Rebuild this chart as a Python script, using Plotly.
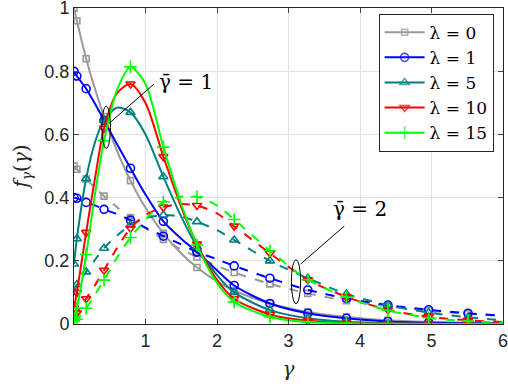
import plotly.graph_objects as go

# gamma grid; markers are drawn only where MARK == 1
GAMMA = [0.0, 0.04, 0.17, 0.3, 0.42, 0.6, 0.79, 1.0, 1.25, 1.5, 1.72, 2.0,
         2.24, 2.74, 3.27, 3.81, 4.39, 4.96, 5.51, 6.0]
MARK = [1, 1, 1, 0, 1, 0, 1, 0, 1, 0, 1, 0, 1, 1, 1, 1, 1, 1, 1, 0]

LAMBDAS = ["0", "1", "5", "10", "15"]

# gamma_bar = 1 (solid)
F1_L0 = [1.0, 0.96, 0.84, 0.74, 0.657, 0.549, 0.454, 0.368, 0.287, 0.223, 0.179, 0.135,
         0.106, 0.065, 0.038, 0.022, 0.012, 0.007, 0.004, 0.0025]
F1_L1 = [0.80, 0.785, 0.745, 0.695, 0.645, 0.57, 0.493, 0.41, 0.325, 0.27, 0.228, 0.17,
         0.122, 0.065, 0.034, 0.018, 0.008, 0.004, 0.002, 0.001]
F1_L5 = [0.19, 0.27, 0.46, 0.58, 0.645, 0.685, 0.67, 0.60, 0.466, 0.34, 0.245, 0.155,
         0.10, 0.044, 0.018, 0.007, 0.003, 0.001, 0.0005, 0.0002]
F1_L10 = [0.05, 0.10, 0.29, 0.47, 0.62, 0.73, 0.76, 0.70, 0.53, 0.37, 0.253, 0.14,
          0.08, 0.03, 0.01, 0.003, 0.001, 0.0003, 0.0001, 0.0]
F1_L15 = [0.02, 0.05, 0.22, 0.42, 0.58, 0.74, 0.814, 0.76, 0.56, 0.38, 0.25, 0.13,
          0.07, 0.022, 0.006, 0.002, 0.0005, 0.0, 0.0, 0.0]

# gamma_bar = 2 (dashed)
F2_L0 = [0.5, 0.49, 0.459, 0.43, 0.405, 0.37, 0.337, 0.303, 0.268, 0.236, 0.212, 0.184,
         0.163, 0.127, 0.097, 0.074, 0.056, 0.042, 0.032, 0.025]
F2_L1 = [0.40, 0.398, 0.385, 0.375, 0.363, 0.348, 0.329, 0.305, 0.278, 0.252, 0.228, 0.205,
         0.184, 0.145, 0.108, 0.081, 0.06, 0.045, 0.034, 0.026]
F2_L5 = [0.10, 0.125, 0.165, 0.205, 0.24, 0.28, 0.313, 0.335, 0.345, 0.34, 0.324, 0.297,
         0.266, 0.20, 0.145, 0.095, 0.06, 0.036, 0.021, 0.012]
F2_L10 = [0.025, 0.035, 0.08, 0.125, 0.17, 0.24, 0.303, 0.345, 0.37, 0.38, 0.375, 0.35,
          0.31, 0.224, 0.14, 0.086, 0.045, 0.023, 0.012, 0.006]
F2_L15 = [0.01, 0.015, 0.05, 0.095, 0.139, 0.21, 0.274, 0.33, 0.387, 0.403, 0.403, 0.375,
          0.331, 0.232, 0.14, 0.085, 0.043, 0.02, 0.009, 0.004]

SOLID = [F1_L0, F1_L1, F1_L5, F1_L10, F1_L15]
DASHED = [F2_L0, F2_L1, F2_L5, F2_L10, F2_L15]

COLORS = ["#999999", "#0000ff", "#008080", "#ff0000", "#00ff00"]
SYMBOLS = ["square-open", "circle-open", "triangle-up-open", "triangle-down-open", "cross-thin-open"]
SIZES = [6, 8, 8, 8, 9]

SERIF = "DejaVu Serif"

fig = go.Figure()

for i, lam in enumerate(LAMBDAS):
    for ys, dash, show in ((DASHED[i], "dash", False), (SOLID[i], "solid", True)):
        fig.add_trace(go.Scatter(
            x=GAMMA, y=ys, mode="lines+markers",
            name=f"λ = {lam}", showlegend=show, legendrank=i,
            line=dict(color=COLORS[i], width=2, dash=dash, shape="spline", smoothing=0.8),
            marker=dict(symbol=SYMBOLS[i], size=SIZES[i], opacity=MARK,
                        line=dict(color=COLORS[i], width=1.6)),
        ))

# annotation ellipses and leader lines
fig.add_shape(type="circle", xref="x", yref="y", x0=0.39, x1=0.51, y0=0.556, y1=0.69,
              line=dict(color="black", width=1))
fig.add_shape(type="line", xref="x", yref="y", x0=0.49, y0=0.635, x1=1.12, y1=0.76,
              line=dict(color="black", width=1))
fig.add_shape(type="circle", xref="x", yref="y", x0=3.04, x1=3.17, y0=0.065, y1=0.203,
              line=dict(color="black", width=1))
fig.add_shape(type="line", xref="x", yref="y", x0=3.17, y0=0.19, x1=3.78, y1=0.31,
              line=dict(color="black", width=1))
fig.add_annotation(x=1.57, y=0.765, xref="x", yref="y", text="γ\u0304 = 1", showarrow=False,
                   font=dict(family=SERIF, size=20, color="black"))
fig.add_annotation(x=4.0, y=0.365, xref="x", yref="y", text="γ\u0304 = 2", showarrow=False,
                   font=dict(family=SERIF, size=20, color="black"))

fig.update_layout(
    width=508, height=392,
    margin=dict(l=74, r=5, t=8, b=68, autoexpand=False),
    paper_bgcolor="white", plot_bgcolor="white",
    font=dict(family="Liberation Sans", size=18, color="#262626"),
    showlegend=True,
    legend=dict(x=0.71, y=0.982, xanchor="left", yanchor="top",
                bgcolor="white", bordercolor="#262626", borderwidth=1,
                font=dict(family=SERIF, size=17, color="black"),
                tracegroupgap=0, itemwidth=40),
)
fig.update_xaxes(
    range=[0, 6], tickvals=[1, 2, 3, 4, 5, 6], ticks="inside", ticklen=5,
    ticklabeloverflow="allow",
    showline=True, linecolor="#262626", linewidth=1, mirror="ticks",
    showgrid=True, gridcolor="#e2e2e2", zeroline=False,
    title=dict(text="<i>γ</i>", font=dict(family=SERIF, size=20, color="#262626"), standoff=12),
)
fig.update_yaxes(
    range=[0, 1.0005], tickvals=[0, 0.2, 0.4, 0.6, 0.8, 1],
    ticktext=["0", "0.2", "0.4", "0.6", "0.8", "1"], ticks="inside", ticklen=5,
    ticklabeloverflow="allow",
    showline=True, linecolor="#262626", linewidth=1, mirror="ticks",
    showgrid=True, gridcolor="#e2e2e2", zeroline=False,
    title=dict(text="<i>f</i><sub><i>γ</i></sub>(<i>γ</i>)",
               font=dict(family=SERIF, size=20, color="#262626"), standoff=10),
)

# drop the browser's default body margin so the 508x392 canvas fills the window
fig.write_html("out.html", config={"displayModeBar": False},
               post_script="document.body.style.margin = '0';")
